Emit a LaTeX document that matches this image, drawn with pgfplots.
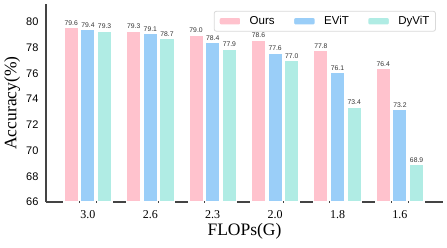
\documentclass[border=0pt]{standalone}
\usepackage{pgfplots}
\pgfplotsset{compat=1.18}
\usepackage{fontspec}
\setmainfont{Liberation Serif}
\newfontfamily\arialf{Liberation Sans}
\definecolor{cpink}{RGB}{255,194,205}
\definecolor{cblue}{RGB}{154,206,248}
\definecolor{cteal}{RGB}{176,236,228}
\definecolor{spine}{RGB}{68,68,68}
\begin{document}
\begin{tikzpicture}[x=1pt,y=1pt]
\path[use as bounding box] (0,0) rectangle (447,247);
\begin{axis}[
  at={(46pt,45pt)}, anchor=south west,
  scale only axis, width=397pt, height=198pt,
  xmin=-0.672, xmax=5.69, ymin=66, ymax=81.4,
  axis x line*=bottom, axis y line*=left,
  axis line style={spine, line width=1.3pt, -},
  major tick length=0pt,
  xtick={0,1,2,3,4,5},
  xticklabels={3.0,2.6,2.3,2.0,1.8,1.6},
  ytick={66,68,70,72,74,76,78,80},
  xticklabel style={font=\fontsize{12}{12}\selectfont, yshift=-5pt},
  yticklabel style={font=\arialf\fontsize{11}{11}\selectfont, xshift=-4pt},
  /pgf/number format/assume math mode=true,
  xlabel={FLOPs(G)}, ylabel={Accuracy(\%)},
  xlabel style={font=\fontsize{17.5}{17.5}\selectfont, at={(axis description cs:0.5,-0.148)}, anchor=center},
  ylabel style={font=\fontsize{17.5}{17.5}\selectfont, at={(axis description cs:-0.085,0.5)}, anchor=center},
  ybar, bar width=0.2336,
  clip=true,
  nodes near coords={\pgfmathprintnumber[fixed,fixed zerofill,precision=1]{\pgfplotspointmeta}},
  every node near coord/.append style={font=\arialf\fontsize{6.8}{6.8}\selectfont, text=black!80, inner sep=1.2pt},
  legend columns=3,
  legend style={at={(axis description cs:0.982,0.965)}, anchor=north east,
    draw=black!15, line width=0.8pt, rounded corners=2pt,
    font=\arialf\fontsize{11.5}{11.5}\selectfont,
    /tikz/every even column/.append style={column sep=16pt},
    /tikz/every odd column/.append style={column sep=6pt},
    inner xsep=4pt, inner ysep=3pt},
  legend image code/.code={\fill[#1] (0pt,-4pt) rectangle (22pt,4pt);},
]
\addplot[fill=cpink, draw=white, line width=1.5pt, bar shift=-0.267] coordinates {(0,79.6) (1,79.3) (2,79.0) (3,78.6) (4,77.8) (5,76.4)};
\addplot[fill=cblue, draw=white, line width=1.5pt, bar shift=0] coordinates {(0,79.4) (1,79.1) (2,78.4) (3,77.6) (4,76.1) (5,73.2)};
\addplot[fill=cteal, draw=white, line width=1.5pt, bar shift=0.267] coordinates {(0,79.3) (1,78.7) (2,77.9) (3,77.0) (4,73.4) (5,68.9)};
\legend{Ours,EViT,DyViT}
\end{axis}
\end{tikzpicture}
\end{document}
